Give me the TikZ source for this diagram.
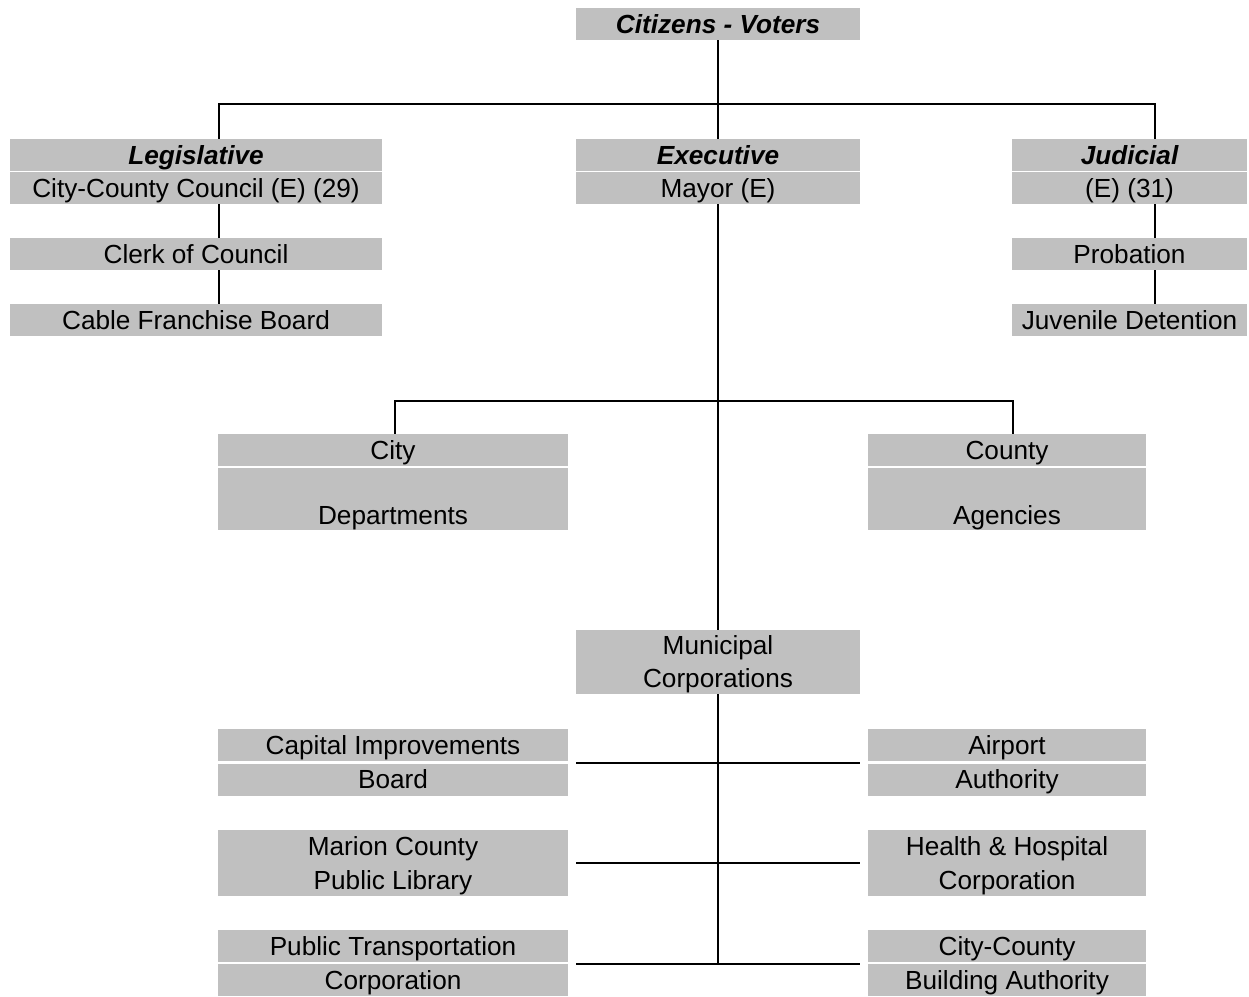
\documentclass[tikz,border=0pt]{standalone}
\usepackage{fontspec}
\setmainfont{Liberation Sans}
\definecolor{boxgray}{RGB}{192,192,192}
\tikzset{box/.style={fill=boxgray, inner sep=0pt, minimum height=0.64cm,
    font=\fontsize{14.9}{18.7}\selectfont},
  one/.style={box, text depth=0pt},
  multi/.style={box, align=center},
  head/.style={one, font=\fontsize{14.9}{18.7}\selectfont\bfseries\itshape},
  link/.style={line width=1.2pt}
}

\begin{document}
\begin{tikzpicture}
            \useasboundingbox (0,0) rectangle (24.98,-19.92);

            % Top level
            \node[head, minimum width=5.68cm] (cit) at (14.36,-0.48) {Citizens - Voters};

            % Legislative
            \node[head, minimum width=7.44cm] (leg) at (3.92,-3.10) {Legislative};
            \node[one, minimum width=7.44cm] (legc) at (3.92,-3.76) {City-County Council (E) (29)};
            \node[one, minimum width=7.44cm] (clerk) at (3.92,-5.08) {Clerk of Council};
            \node[one, minimum width=7.44cm] (cable) at (3.92,-6.40) {Cable Franchise Board};

            % Executive
            \node[head, minimum width=5.68cm] (exe) at (14.36,-3.10) {Executive};
            \node[one, minimum width=5.68cm] (mayor) at (14.36,-3.76) {Mayor (E)};

            % Judicial
            \node[head, minimum width=4.70cm] (jud) at (22.59,-3.10) {Judicial};
            \node[one, minimum width=4.70cm] (judc) at (22.59,-3.76) {(E) (31)};
            \node[one, minimum width=4.70cm] (prob) at (22.59,-5.08) {Probation};
            \node[one, minimum width=4.70cm] (juv) at (22.59,-6.40) {Juvenile Detention};

            % City and county
            \node[one, minimum width=7.00cm] (city) at (7.86,-9.00) {City};
            \node[multi, minimum width=7.00cm, minimum height=1.24cm] (cityd) at (7.86,-9.98) {\strut\\Departments};
            \node[one, minimum width=5.56cm] (county) at (20.14,-9.00) {County};
            \node[multi, minimum width=5.56cm, minimum height=1.24cm] (countya) at (20.14,-9.98) {\strut\\Agencies};

            % Municipal corporations
            \node[multi, minimum width=5.68cm, minimum height=1.28cm] (mun) at (14.36,-13.24) {\strut Municipal\\Corporations};
            \node[one, minimum width=7.00cm] (cap) at (7.86,-14.90) {Capital Improvements};
            \node[one, minimum width=7.00cm] (capb) at (7.86,-15.59) {Board};
            \node[multi, font=\fontsize{14.9}{19.8}\selectfont, minimum width=7.00cm, minimum height=1.32cm] (lib) at (7.86,-17.26) {\strut Marion County\\Public Library};
            \node[one, minimum width=7.00cm] (ptc) at (7.86,-18.92) {Public Transportation};
            \node[one, minimum width=7.00cm] (ptcb) at (7.86,-19.60) {Corporation};
            \node[one, minimum width=5.56cm] (air) at (20.14,-14.90) {Airport};
            \node[one, minimum width=5.56cm] (airb) at (20.14,-15.59) {Authority};
            \node[multi, font=\fontsize{14.9}{19.8}\selectfont, minimum width=5.56cm, minimum height=1.32cm] (hhc) at (20.14,-17.26) {\strut Health \& Hospital\\Corporation};
            \node[one, minimum width=5.56cm] (cca) at (20.14,-18.92) {City-County};
            \node[one, minimum width=5.56cm] (ccb) at (20.14,-19.60) {Building Authority};

            % Lines
            \coordinate (gov) at (14.36,-2.08);
            \coordinate (dept) at (14.36,-8.02);
            \draw[link] (cit.south) -- (exe.north);
            \draw[link] ([xshift=0.46cm]leg.north) |- (gov) -| ([xshift=0.51cm]jud.north);
            \draw[link] ([xshift=0.46cm]legc.south) -- ([xshift=0.46cm]clerk.north);
            \draw[link] ([xshift=0.46cm]clerk.south) -- ([xshift=0.46cm]cable.north);
            \draw[link] ([xshift=0.51cm]judc.south) -- ([xshift=0.51cm]prob.north);
            \draw[link] ([xshift=0.51cm]prob.south) -- ([xshift=0.51cm]juv.north);
            \draw[link] (mayor.south) -- (mun.north);
            \draw[link] ([xshift=0.04cm]city.north) |- (dept) -| ([xshift=0.12cm]county.north);
            \draw[link] (mun.south) -- (mun.south |- ptcb.north);
            \draw[link, shorten <=0.16cm, shorten >=0.16cm] (capb.north east) -- (airb.north west);
            \draw[link, shorten <=0.16cm, shorten >=0.16cm] (lib.east) -- (hhc.west);
            \draw[link, shorten <=0.16cm, shorten >=0.16cm] (ptcb.north east) -- (ccb.north west);
\end{tikzpicture}
\end{document}
